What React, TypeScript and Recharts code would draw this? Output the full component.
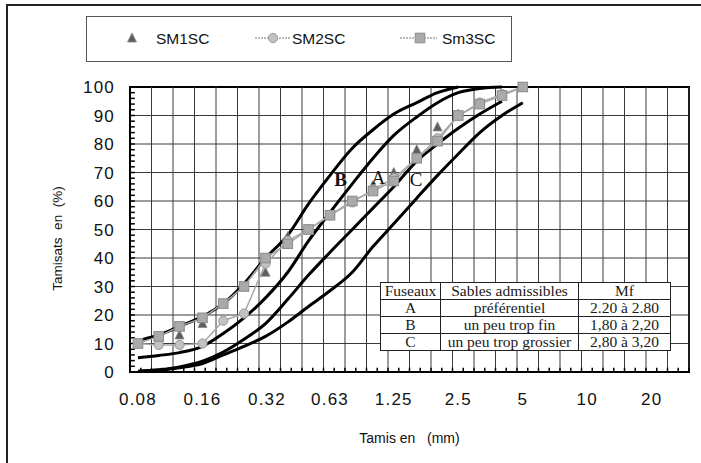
import React from 'react';
import {
  LineChart,
  Line,
  XAxis,
  YAxis,
  CartesianGrid,
  Legend,
  ReferenceArea,
  ReferenceDot,
  ReferenceLine,
} from 'recharts';

// ouverture des tamis (mm)
const sieves = [0.08, 0.1, 0.125, 0.16, 0.2, 0.25, 0.315, 0.4, 0.5, 0.63, 0.8, 1, 1.25, 1.6, 2, 2.5, 3.15, 4, 5];

// tamisats (%) des trois sables
const sm1sc = [10, 12, 13, 17, 24, 30, 35, 47.5, 50, 55, 60, 65.5, 70, 78, 86, 90.5, 94.5, 97.5, 100];
const sm2sc = [10, 9.5, 9.5, 10, 18, 20.5, 38, 46, 50, 55, 59.5, 64, 68, 75, 82, 90, 94.5, 97.5, 100];
const sm3sc = [10, 12.5, 16, 19, 24, 30, 40, 45, 50, 55, 60, 63.5, 67, 75, 81, 90, 94, 97, 100];

// limites des fuseaux (B haut, B/A, A/C, C bas)
const limitB = [11, 13, 16, 19.5, 24, 31, 40, 48, 59, 69, 78.5, 85, 90.5, 94.5, 98, 100];
const limitBA = [5, 5.8, 6.8, 9, 13.5, 19, 26, 35, 46, 56, 66, 75, 83, 89.5, 94.5, 98, 99.5, 100];
const limitAC = [0.3, 0.8, 1.8, 3.8, 7, 11.5, 17, 25.5, 34, 42, 50, 57.5, 65, 74, 80, 85.5, 90.5, 95];
const limitC = [0.2, 0.6, 1.5, 3, 6, 9, 12.5, 17.5, 23, 28.5, 35, 44, 52, 61, 69, 76.5, 84, 90, 94.5];

const xTicks = [0.08, 0.16, 0.32, 0.63, 1.25, 2.5, 5, 10, 20];
const yTicks = [0, 10, 20, 30, 40, 50, 60, 70, 80, 90, 100];

// papier semi-log : 26 colonnes d'un tiers d'octave
const xMin = 0.07342;
const xMax = xMin * 2 ** (26 / 3);
const gridCols = Array.from({ length: 27 }, (_, i) => xMin * 2 ** (i / 3));
const minorX = Array.from({ length: 53 }, (_, i) => xMin * 2 ** (i / 6));
const minorY = Array.from({ length: 51 }, (_, i) => i * 2);
const tickRight = xMin * 2 ** 0.075;

// lettres des fuseaux (en unites du graphique)
const zoneLabels = [
  { name: 'B', x: 0.705, y: 67.7 },
  { name: 'A', x: 1.06, y: 68.2 },
  { name: 'C', x: 1.59, y: 67.8 },
];

const tableHead = ['Fuseaux', 'Sables admissibles', 'Mf'];
const tableRows = [
  ['A', 'préférentiel', '2.20 à 2.80'],
  ['B', 'un peu trop fin', '1,80 à 2,20'],
  ['C', 'un peu trop grossier', '2,80 à 3,20'],
];

const data = sieves.map((d, i) => ({
  d,
  sm1: sm1sc[i],
  sm2: sm2sc[i],
  sm3: sm3sc[i],
  b: limitB[i] ?? null,
  ba: limitBA[i] ?? null,
  ac: limitAC[i] ?? null,
  c: limitC[i] ?? null,
}));

const sans = 'Liberation Sans, Arial, sans-serif';
const serif = 'Liberation Serif, Times New Roman, serif';

const triangle = (cx: number, cy: number, key?: string) => (
  <polygon key={key} points={`${cx},${cy - 5} ${cx - 4.5},${cy + 4} ${cx + 4.5},${cy + 4}`} fill="#5e5e5e" stroke="#888" strokeWidth={0.8} />
);
const circle = (cx: number, cy: number, key?: string) => (
  <circle key={key} cx={cx} cy={cy} r={4.6} fill="#c2c2c2" stroke="#9a9a9a" strokeWidth={1} />
);
const square = (cx: number, cy: number, key?: string) => (
  <rect key={key} x={cx - 4.8} y={cy - 4.8} width={9.6} height={9.6} fill="#aaaaaa" stroke="#8c8c8c" strokeWidth={1} />
);

const dotOf = (fn: typeof triangle, tag: string) => (p: any) => {
  if (p.cx == null || p.cy == null || p.value == null) return <g key={`${tag}${p.index}`} />;
  return fn(p.cx, p.cy, `${tag}${p.index}`);
};

const XTick = (p: any) => (
  <text x={p.x} y={p.y + 33} textAnchor="middle" fontSize={17} letterSpacing={1.2} fill="#111" fontFamily={sans}>
    {p.payload.value}
  </text>
);

const YTick = (p: any) => (
  <text x={p.x - 15} y={p.y} dy={6} textAnchor="end" fontSize={17} letterSpacing={1.2} fill="#111" fontFamily={sans}>
    {p.payload.value}
  </text>
);

const LegendBox = () => (
  <div style={{ width: 426, height: 46, border: '1.5px solid #555', boxSizing: 'border-box', background: '#fff' }}>
    <svg width={423} height={43} style={{ display: 'block' }}>
      {triangle(45, 21)}
      <text x={69} y={26.5} fontSize={15.5} fill="#111" fontFamily={sans}>SM1SC</text>
      <line x1={168} x2={203} y1={21} y2={21} stroke="#a5a5a5" strokeWidth={1.5} strokeDasharray="2 1" />
      {circle(186, 21)}
      <text x={205} y={26.5} fontSize={15.5} fill="#111" fontFamily={sans}>SM2SC</text>
      <line x1={313} x2={350} y1={21} y2={21} stroke="#a5a5a5" strokeWidth={1.5} strokeDasharray="2 1" />
      {square(333, 21)}
      <text x={355} y={26.5} fontSize={15.5} fill="#111" fontFamily={sans}>Sm3SC</text>
    </svg>
  </div>
);

const cell: React.CSSProperties = {
  border: '1.5px solid #222',
  padding: 0,
  height: 16,
  lineHeight: '16px',
  textAlign: 'center',
  whiteSpace: 'nowrap',
};

export default function App() {
  return (
    <div style={{ position: 'absolute', left: 0, top: 0, width: 701, height: 463, background: '#fff', overflow: 'hidden' }}>
      <div
        style={{
          position: 'absolute',
          left: 6,
          top: 4,
          width: 700,
          height: 470,
          borderLeft: '2px solid #222',
          borderTop: '2px solid #222',
        }}
      />
      <LineChart width={701} height={463} data={data} margin={{ top: 87, right: 12, left: 70, bottom: 21 }}>
        <CartesianGrid vertical={false} stroke="#3a3a3a" strokeWidth={1} />
        <XAxis
          dataKey="d"
          type="number"
          scale="log"
          domain={[xMin, xMax]}
          allowDataOverflow
          ticks={xTicks}
          interval={0}
          tick={<XTick />}
          tickLine={false}
          tickSize={0}
          tickMargin={0}
          height={70}
          axisLine={{ stroke: '#000', strokeWidth: 2 }}
          label={{
            content: (p: any) => (
              <text
                x={p.viewBox.x + p.viewBox.width / 2}
                y={p.viewBox.y + 71}
                textAnchor="middle"
                fontSize={14}
                fill="#111"
                fontFamily={sans}
                style={{ whiteSpace: 'pre' }}
              >
                {'Tamis en   (mm)'}
              </text>
            ),
          }}
        />
        <YAxis
          type="number"
          domain={[0, 100]}
          ticks={yTicks}
          interval={0}
          width={60}
          tick={<YTick />}
          tickLine={false}
          tickSize={0}
          tickMargin={0}
          axisLine={{ stroke: '#000', strokeWidth: 2 }}
          label={{
            content: (p: any) => {
              const cx = p.viewBox.x - 13;
              const cy = p.viewBox.y + p.viewBox.height / 2 + 9;
              return (
                <text
                  x={cx}
                  y={cy}
                  transform={`rotate(-90 ${cx} ${cy})`}
                  textAnchor="middle"
                  dominantBaseline="central"
                  fontSize={13.5}
                  fill="#111"
                  fontFamily={sans}
                  style={{ whiteSpace: 'pre' }}
                >
                  {'Tamisats  en  (%)'}
                </text>
              );
            },
          }}
        />

        {gridCols.map((g, i) => (
          <ReferenceLine key={`g${i}`} x={g} stroke="#3a3a3a" strokeWidth={1} ifOverflow="visible" />
        ))}
        {minorX.map((g, i) => (
          <ReferenceLine
            key={`mx${i}`}
            segment={[{ x: g, y: 0 }, { x: g, y: 1.5 }]}
            stroke="#000"
            strokeWidth={1.5}
            ifOverflow="visible"
          />
        ))}
        {minorY.map((v) => (
          <ReferenceLine
            key={`my${v}`}
            segment={[{ x: xMin, y: v }, { x: tickRight, y: v }]}
            stroke="#000"
            strokeWidth={1.5}
            ifOverflow="visible"
          />
        ))}
        <ReferenceArea
          x1={xMin}
          x2={xMax}
          y1={0}
          y2={100}
          fill="none"
          stroke="#000"
          strokeWidth={2}
          ifOverflow="visible"
        />

        <Line type="monotone" dataKey="b" stroke="#000" strokeWidth={3} dot={false} activeDot={false} isAnimationActive={false} />
        <Line type="monotone" dataKey="ba" stroke="#000" strokeWidth={3} dot={false} activeDot={false} isAnimationActive={false} />
        <Line type="monotone" dataKey="ac" stroke="#000" strokeWidth={3} dot={false} activeDot={false} isAnimationActive={false} />
        <Line type="monotone" dataKey="c" stroke="#000" strokeWidth={3} dot={false} activeDot={false} isAnimationActive={false} />

        <Line type="linear" dataKey="sm1" stroke="none" dot={dotOf(triangle, 't')} activeDot={false} isAnimationActive={false} />
        <Line type="linear" dataKey="sm2" stroke="#a8a8a8" strokeWidth={1.5} dot={dotOf(circle, 'c')} activeDot={false} isAnimationActive={false} />
        <Line type="linear" dataKey="sm3" stroke="#a8a8a8" strokeWidth={1.5} dot={dotOf(square, 's')} activeDot={false} isAnimationActive={false} />

        {zoneLabels.map((z) => (
          <ReferenceDot
            key={z.name}
            x={z.x}
            y={z.y}
            r={0}
            fill="none"
            stroke="none"
            label={{
              value: z.name,
              position: 'center',
              fontSize: 19,
              fontWeight: z.name === 'B' ? 700 : 400,
              fill: '#111',
              fontFamily: serif,
            }}
          />
        ))}

        <Legend
          layout="horizontal"
          verticalAlign="middle"
          align="center"
          content={() => <LegendBox />}
          wrapperStyle={{ left: 86, top: 16, width: 426, height: 46 }}
        />
      </LineChart>

      <table
        style={{
          position: 'absolute',
          left: 380,
          top: 282,
          width: 290,
          borderCollapse: 'collapse',
          background: '#fff',
          fontFamily: serif,
          fontSize: 15.5,
          color: '#1a1a1a',
          tableLayout: 'fixed',
        }}
      >
        <colgroup>
          <col style={{ width: 60 }} />
          <col style={{ width: 138 }} />
          <col style={{ width: 92 }} />
        </colgroup>
        <tbody>
          <tr>
            {tableHead.map((h) => (
              <td key={h} style={cell}>{h}</td>
            ))}
          </tr>
          {tableRows.map((r) => (
            <tr key={r[0]}>
              {r.map((v, j) => (
                <td key={j} style={cell}>{v}</td>
              ))}
            </tr>
          ))}
        </tbody>
      </table>
    </div>
  );
}
